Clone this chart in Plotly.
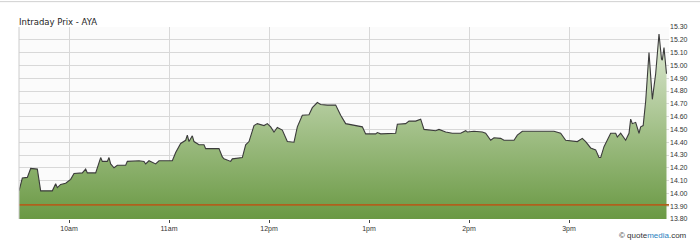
import pandas as pd
import plotly.graph_objects as go

# ---- data ----
session_start = "2024-01-02 09:30"
minutes = [0, 2, 5, 7, 11, 13, 20, 22, 23, 25, 28, 31, 33, 38, 40, 41, 46, 49, 50, 53,
           54, 55, 57, 59, 64, 65, 72, 75, 76, 78, 82, 84, 92, 94, 97, 100, 101, 102, 104, 105,
           108, 111, 112, 120, 122, 123, 127, 128, 134, 136, 138, 141, 143, 147, 149, 151, 153, 155, 158, 161,
           165, 167, 170, 174, 176, 179, 181, 185, 190, 193, 196, 202, 204, 206, 208, 214, 215, 217, 226, 227,
           232, 234, 238, 241, 243, 250, 252, 256, 260, 265, 268, 269, 273, 278, 280, 283, 285, 289, 291, 297,
           299, 302, 321, 325, 328, 332, 335, 338, 340, 343, 346, 348, 349, 351, 353, 355, 358, 359, 361, 364,
           366, 367, 368, 370, 372, 373, 374.5, 376, 378, 380, 382, 384, 385.5, 386, 387, 388.5]
prices = [14.02, 14.12, 14.125, 14.195, 14.19, 14.02, 14.02, 14.075, 14.045, 14.07, 14.08, 14.11, 14.155, 14.16, 14.19, 14.16, 14.16, 14.28, 14.25, 14.25,
          14.28, 14.23, 14.20, 14.22, 14.22, 14.25, 14.255, 14.25, 14.23, 14.255, 14.23, 14.255, 14.255, 14.32, 14.39, 14.415, 14.455, 14.405, 14.45, 14.405,
          14.38, 14.38, 14.35, 14.35, 14.285, 14.27, 14.25, 14.27, 14.28, 14.38, 14.405, 14.53, 14.545, 14.53, 14.545, 14.52, 14.48, 14.515, 14.495, 14.405,
          14.40, 14.52, 14.61, 14.615, 14.67, 14.71, 14.695, 14.69, 14.69, 14.61, 14.545, 14.53, 14.52, 14.52, 14.465, 14.465, 14.475, 14.465, 14.47, 14.54,
          14.545, 14.565, 14.565, 14.58, 14.50, 14.49, 14.50, 14.48, 14.47, 14.47, 14.49, 14.48, 14.485, 14.48, 14.47, 14.415, 14.435, 14.43, 14.415, 14.415,
          14.455, 14.485, 14.485, 14.47, 14.415, 14.41, 14.405, 14.43, 14.405, 14.355, 14.34, 14.28, 14.28, 14.365, 14.415, 14.47, 14.47, 14.44, 14.47, 14.415,
          14.47, 14.58, 14.545, 14.555, 14.47, 14.52, 14.53, 14.72, 15.10, 14.735, 14.935, 15.245, 15.05, 15.04, 15.14, 14.935]
prev_close = 13.91
y_min, y_max = 13.80, 15.30
session_minutes = 390
tick_hours = ["10:00", "11:00", "12:00", "13:00", "14:00", "15:00"]
tick_labels = ["10am", "11am", "12pm", "1pm", "2pm", "3pm"]
title_text = "Intraday Prix - AYA"

# ---- build ----
base = pd.Timestamp(session_start)
times = [base + pd.Timedelta(minutes=m) for m in minutes]
day = base.strftime("%Y-%m-%d")
tickvals = [pd.Timestamp(f"{day} {h}") for h in tick_hours]
x_end = base + pd.Timedelta(minutes=session_minutes)

fig = go.Figure()
fig.add_trace(go.Scatter(
    x=times, y=prices, mode="lines",
    line=dict(color="#3b3b3b", width=1.1, shape="linear"),
    fill="tozeroy",
    fillgradient=dict(type="vertical", start=y_min, stop=y_max,
                      colorscale=[[0, "#66963f"], [0.45, "#9ebd83"], [1, "#e4eddb"]]),
    hoverinfo="skip", showlegend=False,
))
fig.add_trace(go.Scatter(
    x=[base, x_end], y=[prev_close, prev_close], mode="lines",
    line=dict(color="#b0601c", width=1.6),
    hoverinfo="skip", showlegend=False,
))

fig.update_layout(
    width=700, height=245,
    margin=dict(l=19, r=26, t=27, b=21),
    paper_bgcolor="white", plot_bgcolor="#fbfbfb",
    font=dict(family="Liberation Sans, Arial, sans-serif", color="#333"),
    title=dict(text=title_text, x=19 / 700, xanchor="left", xref="container",
               y=1 - 22.5 / 245, yanchor="middle", yref="container",
               font=dict(size=8.5, color="#1e1e1e", family="DejaVu Sans, sans-serif")),
    xaxis=dict(range=[base, x_end], tickvals=tickvals, ticktext=tick_labels,
               showgrid=True, gridcolor="#d8d8d8", gridwidth=1,
               ticks="outside", ticklen=3, tickcolor="#444", tickwidth=1,
               tickfont=dict(size=7, color="#333"), zeroline=False, showline=False),
    yaxis=dict(range=[y_min, y_max], side="right", tick0=y_min, dtick=0.1, tickformat=".2f",
               showgrid=True, gridcolor="#d8d8d8", gridwidth=1,
               tickfont=dict(size=7, color="#333"), zeroline=False, ticks=""),
    shapes=[
        dict(type="line", xref="paper", yref="paper", x0=0, x1=0, y0=0, y1=1,
             line=dict(color="#cccccc", width=1)),
        dict(type="line", xref="paper", yref="paper", x0=-0.1, x1=1.1, y0=1.132, y1=1.132,
             line=dict(color="#d0d0d0", width=1)),
    ],
    annotations=[dict(
        text='© quote<span style="color:#2a7fc0">media</span>.com',
        xref="paper", yref="paper", x=1.03, y=-0.088, xanchor="right", yanchor="middle",
        showarrow=False, font=dict(size=8, color="#333"),
    )],
)

fig.write_html("out.html")
